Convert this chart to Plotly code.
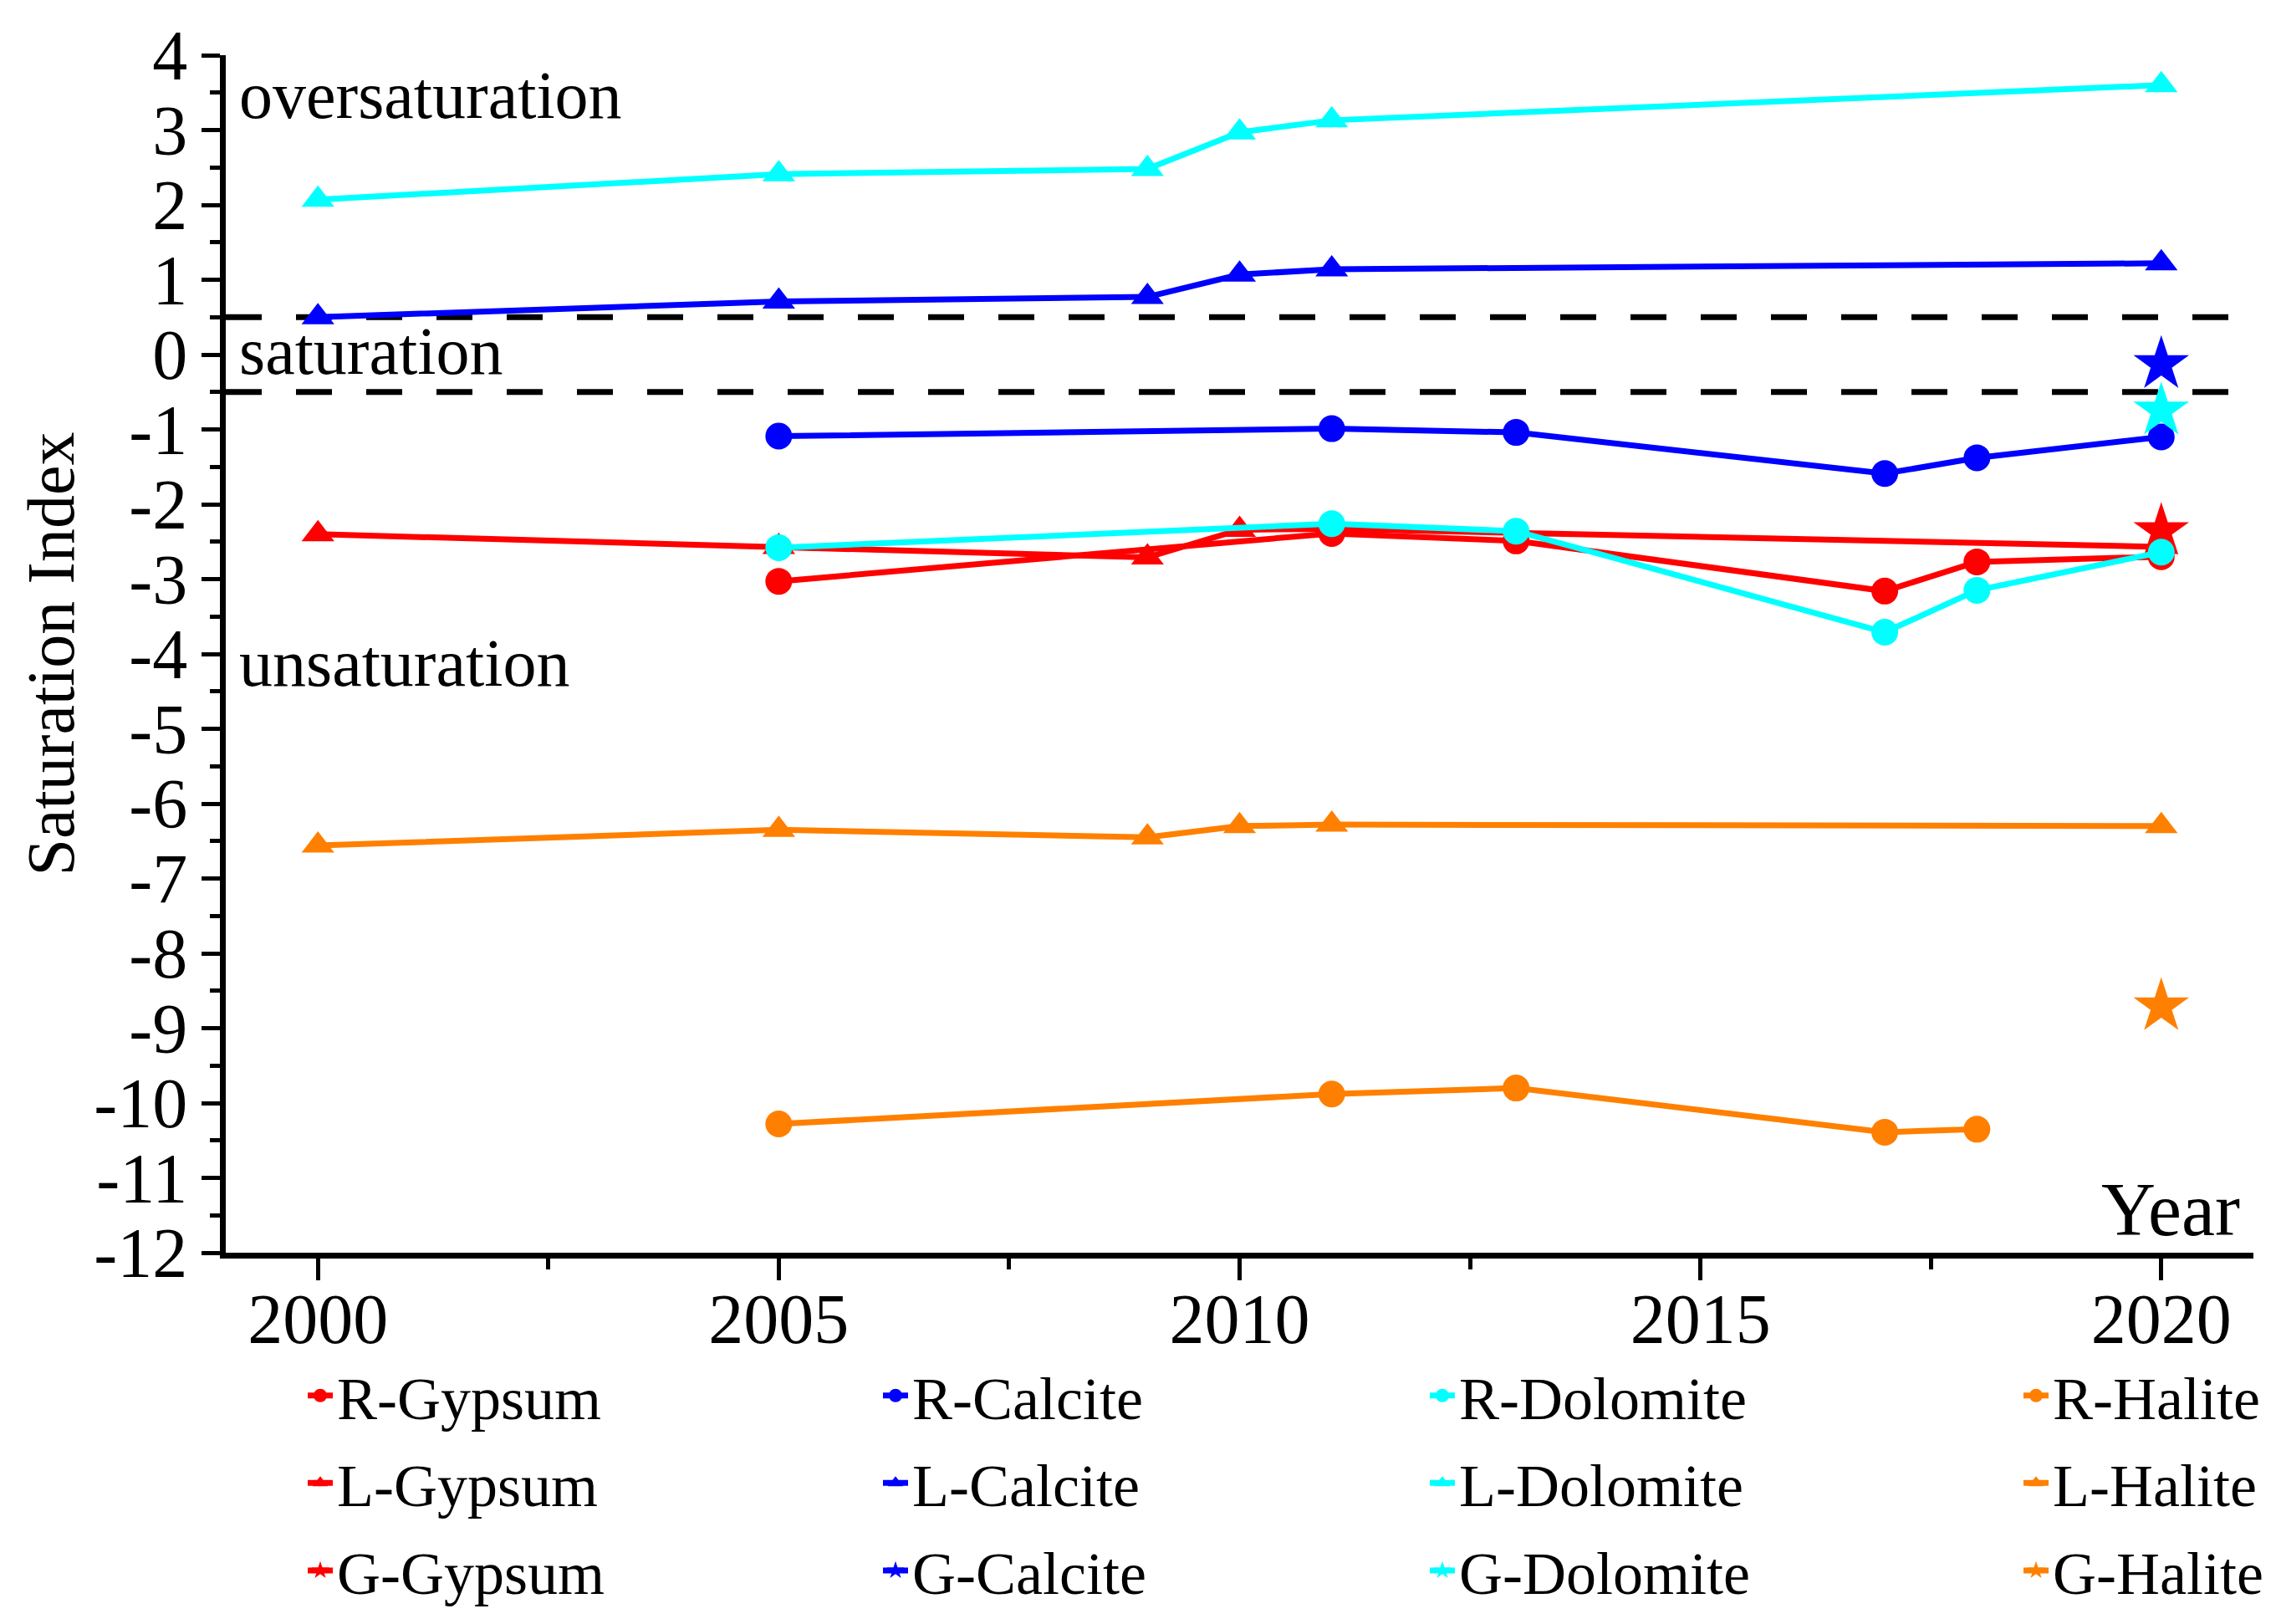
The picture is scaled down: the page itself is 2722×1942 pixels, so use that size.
import plotly.graph_objects as go

# ---------------- data ----------------
years_R = [2005, 2011, 2013, 2017, 2018, 2020]
years_L = [2000, 2005, 2009, 2010, 2011, 2020]
years_G = [2020]
years_RH = [2005, 2011, 2013, 2017, 2018]

R_gypsum = [-3.03, -2.39, -2.49, -3.16, -2.77, -2.70]
R_calcite = [-1.09, -0.99, -1.04, -1.59, -1.38, -1.10]
R_dolomite = [-2.58, -2.26, -2.36, -3.71, -3.15, -2.64]
R_halite = [-10.28, -9.88, -9.80, -10.39, -10.35]

L_gypsum = [-2.40, -2.57, -2.71, -2.34, -2.33, -2.57]
L_calcite = [0.50, 0.71, 0.77, 1.07, 1.14, 1.22]
L_dolomite = [2.07, 2.41, 2.48, 2.97, 3.13, 3.60]
L_halite = [-6.56, -6.35, -6.45, -6.30, -6.28, -6.30]

G_gypsum = [-2.36]
G_calcite = [-0.13]
G_dolomite = [-0.75]
G_halite = [-8.71]

saturation_bounds = [0.5, -0.5]
region_labels = ["oversaturation", "saturation", "unsaturation"]
region_label_y = [3.46, 0.04, -4.12]

x_ticks = [2000, 2005, 2010, 2015, 2020]
y_ticks = list(range(-12, 5))
y_ticktext = [str(v) for v in y_ticks]  # plain hyphen minus as in the original

# ---------------- styling ----------------
FONT = "Times New Roman, Liberation Serif, serif"
RED, BLUE, CYAN, ORANGE = "#FF0000", "#0000FF", "#00FFFF", "#FF8000"
LW = 7

fig = go.Figure()

series = [
    # name, x, y, color, symbol, size, legend id
    ("R-Gypsum", years_R, R_gypsum, RED, "circle", 32, "legend"),
    ("L-Gypsum", years_L, L_gypsum, RED, "triangle-up", 34, "legend"),
    ("G-Gypsum", years_G, G_gypsum, RED, "star", 50, "legend"),
    ("R-Calcite", years_R, R_calcite, BLUE, "circle", 32, "legend2"),
    ("L-Calcite", years_L, L_calcite, BLUE, "triangle-up", 34, "legend2"),
    ("G-Calcite", years_G, G_calcite, BLUE, "star", 50, "legend2"),
    ("R-Dolomite", years_R, R_dolomite, CYAN, "circle", 32, "legend3"),
    ("L-Dolomite", years_L, L_dolomite, CYAN, "triangle-up", 34, "legend3"),
    ("G-Dolomite", years_G, G_dolomite, CYAN, "star", 50, "legend3"),
    ("R-Halite", years_RH, R_halite, ORANGE, "circle", 32, "legend4"),
    ("L-Halite", years_L, L_halite, ORANGE, "triangle-up", 34, "legend4"),
    ("G-Halite", years_G, G_halite, ORANGE, "star", 50, "legend4"),
]

for name, xs, ys, col, sym, sz, leg in series:
    fig.add_trace(go.Scatter(
        x=xs, y=ys, name=name, mode="lines+markers",
        line=dict(color=col, width=LW),
        marker=dict(color=col, symbol=sym, size=sz, line=dict(width=0)),
        legend=leg, legendgroup=name,
    ))

# saturation band boundaries
for yb in saturation_bounds:
    fig.add_shape(type="line", xref="paper", x0=0, x1=1, yref="y", y0=yb, y1=yb,
                  line=dict(color="black", width=7, dash="43px,41px"), layer="below")

for lab, yl in zip(region_labels, region_label_y):
    fig.add_annotation(x=0, xref="paper", xshift=14, y=yl, yref="y", text=lab,
                       showarrow=False, xanchor="left", yanchor="middle",
                       font=dict(family=FONT, size=80, color="black"))

fig.add_annotation(x=1, xref="paper", xshift=-14, y=-12, yref="y", text="Year",
                   showarrow=False, xanchor="right", yanchor="bottom",
                   font=dict(family=FONT, size=90, color="black"))

axis_common = dict(
    showline=True, linecolor="black", linewidth=7, mirror=False,
    showgrid=False, zeroline=False, ticks="outside", tickcolor="black",
    tickwidth=5, tickfont=dict(family=FONT, size=84, color="black"),
)

fig.update_xaxes(range=[1999, 2021], tickvals=x_ticks, ticklen=26,
                 ticklabelstandoff=-26,
                 minor=dict(ticks="outside", dtick=2.5, tick0=2000, ticklen=13,
                            tickwidth=5, tickcolor="black"),
                 **axis_common)
fig.update_yaxes(range=[-12, 4], tickvals=y_ticks, ticktext=y_ticktext, ticklen=22,
                 minor=dict(ticks="outside", dtick=0.5, tick0=0, ticklen=12,
                            tickwidth=5, tickcolor="black"),
                 title=dict(text="Saturation Index", standoff=0,
                            font=dict(family=FONT, size=80, color="black")),
                 **axis_common)

leg_font = dict(family=FONT, size=72, color="black")
leg_common = dict(orientation="v", font=leg_font, bgcolor="rgba(0,0,0,0)",
                  yanchor="top", xanchor="left", y=-0.082, itemwidth=30,
                  tracegroupgap=8, itemclick=False, itemdoubleclick=False)
fig.update_layout(
    width=2722, height=1942,
    margin=dict(l=262, r=35, t=58, b=452),
    plot_bgcolor="white", paper_bgcolor="white",
    showlegend=True,
    legend=dict(x=(355 - 262) / 2425, **leg_common),
    legend2=dict(x=(1043 - 262) / 2425, **leg_common),
    legend3=dict(x=(1697 - 262) / 2425, **leg_common),
    legend4=dict(x=(2407 - 262) / 2425, **leg_common),
)

fig.write_html("out.html")
